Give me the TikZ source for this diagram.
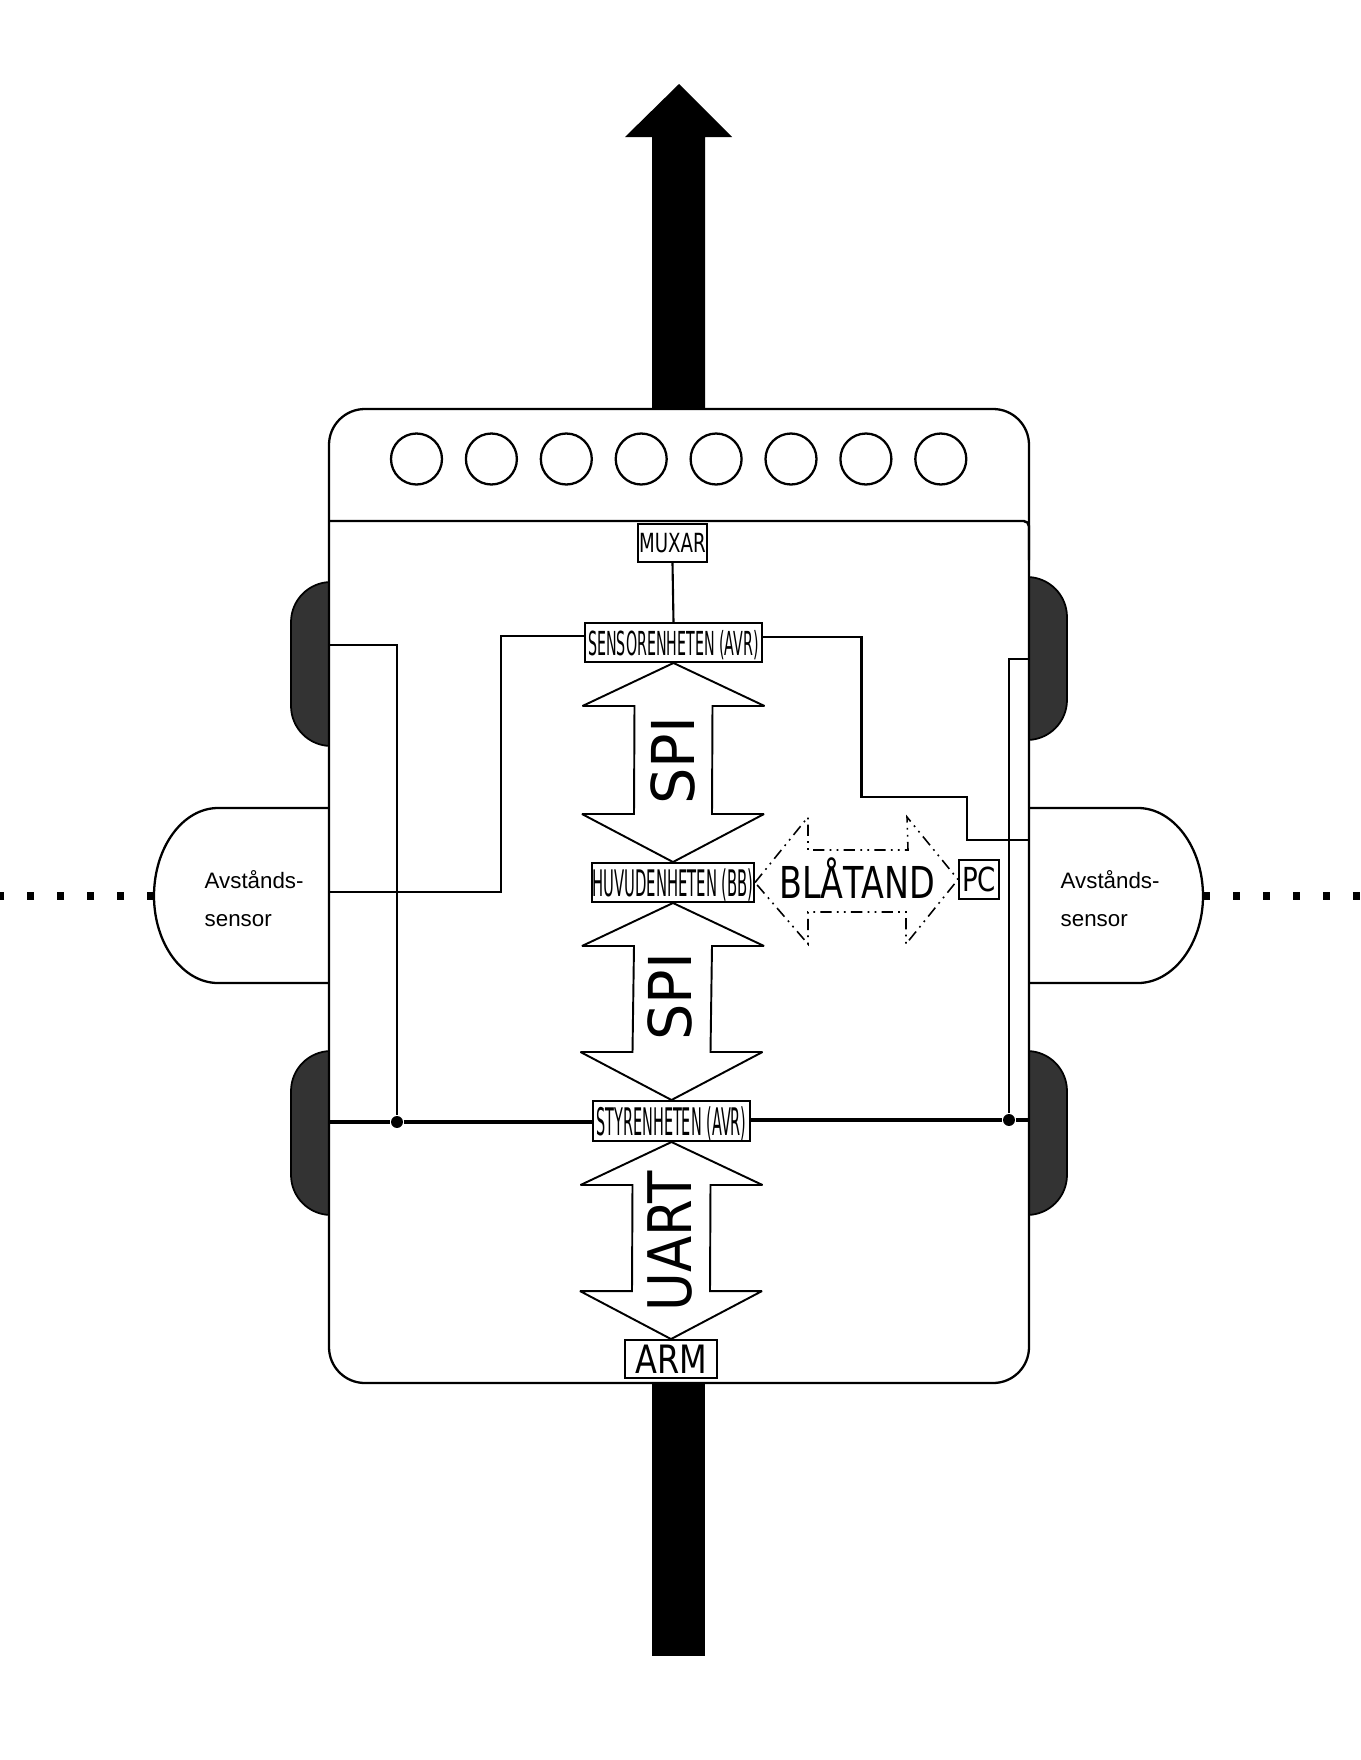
\documentclass[tikz,border=0pt]{standalone}
\usepackage{fontspec}
\usepackage{graphicx}
\setmainfont{Liberation Sans}
\newfontfamily\boxfamily{DejaVu Sans}
\usetikzlibrary{calc}

\tikzstyle{body} = [draw, line width=0.65pt, fill=white]
\tikzstyle{wheel} = [draw, line width=0.5pt, fill=black!80, rounded corners=11.4pt]
\tikzstyle{sensorshape} = [draw, line width=0.65pt, fill=white]
\tikzstyle{pin} = [circle, draw, line width=0.65pt, fill=white, minimum size=14.5pt, inner sep=0pt]
\tikzstyle{block} = [rectangle, draw, line width=0.55pt, fill=white, inner sep=0pt, text depth=0pt, boxtext]
\tikzstyle{boxtext} = [font=\boxfamily]
\tikzstyle{busline} = [draw, line width=0.55pt, fill=white, miter limit=2]
\tikzstyle{wire} = [draw, line width=0.6pt]
\tikzstyle{mainwire} = [draw, line width=0.9pt]
\tikzstyle{beam} = [draw, line width=2pt, dash pattern=on 2pt off 6.53pt]
\tikzstyle{junction} = [circle, fill=black, minimum size=3.4pt, inner sep=0pt]
\tikzstyle{sensortext} = [align=left, anchor=west, inner sep=0pt, font=\fontsize{6.35}{10.8}\selectfont]
\newcommand{\boxlabel}[3]{{\fontsize{#1}{#1}\selectfont\scalebox{#2}[1]{#3}}}
% double headed arrow between two anchors
\newcommand{\busarrow}[2]{\path[busline] (#1) -- ++(91,43) -- ++(-52,0) -- ($(#2)+(39,-48)$) -- ++(52,0) -- (#2) -- ++(-91,-48) -- ++(52,0) -- ($(#1)+(-39,43)$) -- ++(-52,0) -- cycle;}

\begin{document}
\begin{tikzpicture}[x=0.01cm, y=-0.01cm]
		\useasboundingbox (0,0) rectangle (1360,1760);
		
		%driving direction
		\fill (652,409) -- (652,137) -- (625,137) -- (679,84) -- (732,137) -- (705,137) -- (705,409) -- cycle;
		\fill (652,1383) rectangle (705,1656);
		
		%distance sensors
		\coordinate (beamL) at (154,896);
		\coordinate (beamLend) at (0,896);
		\coordinate (beamR) at (1203,896);
		\coordinate (beamRend) at (1360,896);
		\draw[beam] (beamL) -- (beamLend);
		\draw[beam] (beamR) -- (beamRend);
		\path[sensorshape] (340,808) -- (218,808) .. controls (183,808) and (154,847) .. (154,896) .. controls (154,944) and (183,983) .. (218,983) -- (340,983) -- cycle;
		\path[sensorshape] (1018,808) -- (1138,808) .. controls (1173,808) and (1203,847) .. (1203,896) .. controls (1203,944) and (1173,983) .. (1138,983) -- (1018,983) -- cycle;
		
		%wheels
		\path[wheel] (291,582) rectangle (380,746);
		\path[wheel] (291,1051) rectangle (380,1215);
		\path[wheel] (978,577) rectangle (1067,740);
		\path[wheel] (978,1051) rectangle (1067,1215);
		
		%body
		\path[body, rounded corners=10.2pt] (329,409) rectangle (1029,1383);
		\draw[line width=0.7pt, rounded corners=1.5pt] (329,521) -- (1029,521) -- (1029,560);
		\foreach \i in {0,...,7}
			\node [pin] (led\i) at (416.5+\i*74.9,459) {};
		
		\node [sensortext] (labL) at (204,899) {Avstånds-\\sensor};
		\node [sensortext] (labR) at (1060,899) {Avstånds-\\sensor};
		
		%units
		\node [block, minimum width=19.6pt, minimum height=10.8pt] (muxar) at (672.5,543) {\boxlabel{7.5}{0.69}{MUXAR}};
		\node [block, minimum width=50.4pt, minimum height=11.1pt] (sensor) at (673.5,642.5) {\boxlabel{9.4}{0.43}{SENSORENHETEN (AVR)}};
		\node [block, minimum width=46.1pt, minimum height=11.1pt] (huvud) at (673,882.5) {\boxlabel{10.4}{0.405}{HUVUDENHETEN (BB)}};
		\node [block, minimum width=44.4pt, minimum height=11.4pt] (styr) at (671.5,1121) {\boxlabel{10.8}{0.38}{STYRENHETEN (AVR)}};
		\node [block, minimum width=26.2pt, minimum height=10.8pt] (arm) at (671,1359) {\boxlabel{11.1}{0.82}{ARM}};
		\node [block, minimum width=11.4pt, minimum height=11.1pt] (pc) at (979,879.5) {\boxlabel{9.4}{0.79}{PC}};
		
		%buses
		\busarrow{sensor.south}{huvud.north}
		\busarrow{huvud.south}{styr.north}
		\busarrow{styr.south}{arm.north}
		\node [boxtext, rotate=90, inner sep=0pt] (spi1) at (673,761) {\boxlabel{16.8}{0.97}{SPI}};
		\node [boxtext, rotate=90, inner sep=0pt] (spi2) at (670,997) {\boxlabel{16.8}{0.97}{SPI}};
		\node [boxtext, rotate=90, inner sep=0pt] (uart) at (670,1241) {\boxlabel{17.1}{0.88}{UART}};
		
		%bluetooth
		\draw[line width=0.45pt, dash pattern=on 3.2pt off 1.5pt on 0.5pt off 1.5pt on 0.5pt off 1.5pt] (huvud.east) -- (808,817) -- (808,850) -- (908,850) -- (907,817) -- (pc.west) -- (906,944) -- (906,912) -- (808,912) -- (808,944) -- cycle;
		\node [boxtext, inner sep=0pt] (bt) at (857,878) {\boxlabel{12.5}{0.76}{BLÅTAND}};
		
		%wires
		\node [junction] (jL) at (397,1122) {};
		\node [junction] (jR) at (1009,1120) {};
		\coordinate (whLtop) at (329,645);
		\coordinate (whRtop) at (1029,659);
		\coordinate (sideL) at (329,1122);
		\coordinate (sideR) at (1029,1120);
		\coordinate (sensL) at (329,892);
		\coordinate (sensR) at (1029,840);
		\coordinate (outL) at (585,636);
		\coordinate (outR) at (762,637);
		\draw[wire] (muxar.south) -- (sensor.north);
		\draw[mainwire] (sideL) -- (jL) -- (jL -| styr.west);
		\draw[mainwire] (styr.east |- jR) -- (jR) -- (sideR);
		\draw[wire] (whLtop) -| (jL);
		\draw[wire] (whRtop) -| (jR);
		\draw[wire] (sensL) -- (501,892) -- (501,636) -- (outL);
		\draw[wire] (outR) -- (861.5,637) -- (861.5,797) -- (967,797) -- (967,840) -- (sensR);
\end{tikzpicture}
\end{document}
